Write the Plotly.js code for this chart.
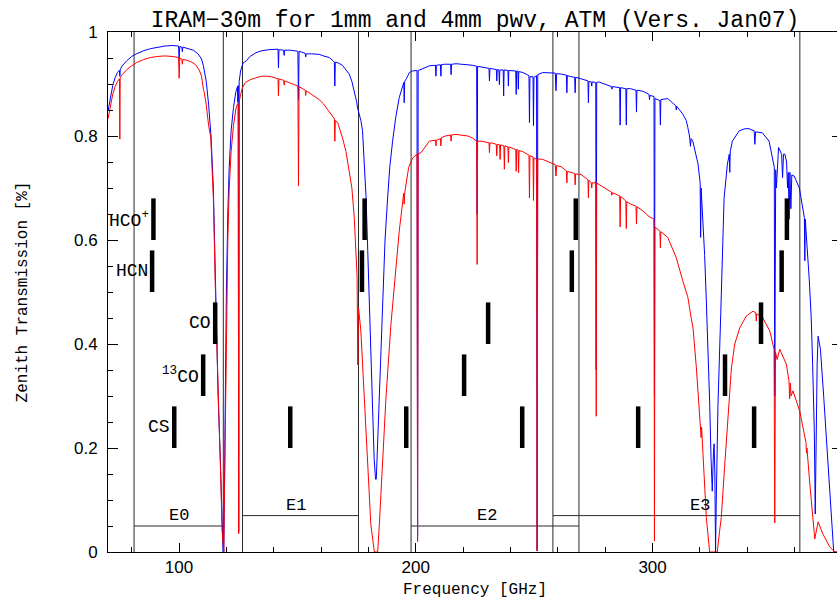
<!DOCTYPE html>
<html>
<head>
<meta charset="utf-8">
<script src="https://cdn.plot.ly/plotly-3.0.1.min.js"></script>
<style>
html,body{margin:0;padding:0;overflow:hidden;background:#fff;}
#chart{width:860px;height:599px;}
</style>
</head>
<body>
<div id="chart"></div>
<script>
// ---- Data ----
// Zenith transmission, 1 mm pwv (blue)
const freqBlue = [70.0,71.0,72.0,73.0,74.0,74.8,75.0,75.2,76.0,78.0,80.0,82.0,85.0,88.0,91.0,94.0,97.0,99.8,100.05,100.3,101.2,101.4,101.6,102.5,104.0,106.0,108.0,109.5,110.3,110.6,111.5,112.5,113.5,114.5,115.5,116.5,117.5,118.2,118.6,118.9,119.3,120.0,120.6,121.2,122.0,123.0,124.0,124.7,124.85,125.0,125.2,125.4,126.0,127.0,128.5,130.0,132.4,135.0,138.0,141.8,142.0,142.2,144.2,144.4,144.6,147.0,150.2,150.45,150.7,153.3,153.5,153.7,156.0,159.2,161.0,163.4,165.0,165.6,165.8,166.0,167.0,168.0,169.0,170.0,171.0,171.9,173.0,174.0,175.0,175.4,176.0,176.8,177.5,178.2,179.0,179.7,180.3,181.0,181.7,182.4,183.0,183.3,183.8,184.6,185.3,186.0,187.0,188.1,189.0,190.2,191.5,193.0,194.3,194.95,195.1,195.3,196.0,197.3,198.5,200.5,200.75,201.0,202.2,204.0,205.7,208.3,208.5,208.7,210.4,210.6,210.8,212.0,214.7,214.9,215.1,217.0,219.8,222.0,224.0,225.7,225.9,226.1,227.6,229.0,230.9,231.1,231.3,232.5,234.0,234.2,234.4,235.1,235.3,235.5,236.9,237.1,237.3,238.9,239.1,239.3,240.5,242.2,242.4,242.6,243.1,243.3,243.5,245.2,247.0,247.8,248.0,248.2,249.5,249.7,249.9,251.0,251.25,251.5,253.6,256.4,258.9,259.2,259.5,261.4,263.6,263.8,264.0,265.6,267.1,267.3,267.5,269.8,272.7,272.9,273.1,274.1,274.3,274.5,276.0,276.2,276.4,277.3,279.4,282.6,282.8,283.0,286.1,286.3,286.5,288.7,288.9,289.1,290.7,293.0,293.2,293.4,295.9,298.5,298.7,298.9,300.6,300.8,301.0,302.2,303.1,303.3,303.5,306.4,309.8,310.0,310.2,312.8,314.2,314.9,315.6,316.0,316.3,317.0,318.0,319.2,320.1,320.3,320.5,321.0,322.0,322.7,323.4,324.1,324.7,325.2,325.7,326.0,326.3,326.6,326.9,327.3,327.6,328.8,330.2,331.6,332.4,332.6,332.8,333.7,336.6,339.0,340.8,342.9,343.2,343.5,346.4,349.2,350.6,351.4,351.6,351.8,352.0,352.3,352.6,353.2,354.5,354.9,355.3,355.9,356.6,357.0,357.3,357.7,358.0,358.4,358.8,359.8,362.0,363.6,364.1,364.3,364.5,366.2,367.0,367.6,368.3,368.7,369.1,369.5,369.9,370.5,370.9,372.3,374.4,376.5,380.0];
const transBlue = [0.848,0.875,0.897,0.912,0.922,0.926,0.915,0.928,0.935,0.945,0.953,0.958,0.964,0.968,0.971,0.973,0.974,0.973,0.947,0.972,0.971,0.962,0.971,0.970,0.968,0.965,0.958,0.948,0.935,0.928,0.905,0.86,0.80,0.70,0.49,0.30,0.17,0.05,0.0,0.0,0.20,0.50,0.65,0.74,0.81,0.855,0.885,0.895,0.865,0.897,0.04,0.905,0.925,0.94,0.945,0.953,0.960,0.964,0.966,0.967,0.931,0.966,0.965,0.955,0.965,0.965,0.963,0.87,0.963,0.959,0.952,0.958,0.958,0.957,0.954,0.951,0.945,0.942,0.896,0.942,0.941,0.939,0.936,0.93,0.925,0.919,0.905,0.887,0.866,0.854,0.843,0.83,0.81,0.75,0.681,0.58,0.489,0.37,0.265,0.18,0.14,0.14,0.2,0.297,0.40,0.489,0.6,0.681,0.74,0.79,0.835,0.874,0.895,0.903,0.864,0.905,0.91,0.922,0.925,0.926,0.03,0.926,0.928,0.932,0.935,0.936,0.915,0.936,0.937,0.915,0.937,0.938,0.938,0.918,0.938,0.939,0.938,0.938,0.936,0.934,0.65,0.934,0.933,0.932,0.930,0.906,0.930,0.929,0.928,0.906,0.928,0.927,0.899,0.927,0.927,0.877,0.927,0.926,0.896,0.926,0.926,0.925,0.88,0.925,0.925,0.89,0.924,0.922,0.918,0.916,0.826,0.914,0.914,0.82,0.913,0.916,0.002,0.918,0.922,0.922,0.921,0.887,0.92,0.919,0.917,0.883,0.916,0.914,0.913,0.883,0.913,0.91,0.906,0.864,0.905,0.904,0.896,0.904,0.903,0.35,0.903,0.904,0.90,0.895,0.89,0.895,0.893,0.821,0.893,0.891,0.821,0.891,0.891,0.888,0.846,0.888,0.886,0.88,0.87,0.878,0.876,0.30,0.872,0.870,0.868,0.821,0.87,0.872,0.858,0.85,0.857,0.842,0.83,0.816,0.80,0.78,0.795,0.79,0.77,0.746,0.71,0.605,0.70,0.66,0.57,0.483,0.40,0.29,0.18,0.117,0.19,0.208,0.15,0.0,0.1,0.226,0.28,0.46,0.68,0.746,0.765,0.73,0.77,0.79,0.81,0.814,0.814,0.81,0.784,0.808,0.806,0.79,0.758,0.74,0.30,0.72,0.735,0.70,0.727,0.778,0.765,0.72,0.765,0.765,0.75,0.70,0.73,0.64,0.73,0.66,0.725,0.723,0.70,0.66,0.643,0.56,0.64,0.521,0.45,0.361,0.233,0.073,0.233,0.36,0.415,0.40,0.39,0.297,0.137,0.0,0.0];

// Zenith transmission, 4 mm pwv (red)
const freqRed = [70.0,71.0,72.0,73.0,74.0,74.85,75.0,75.15,76.0,78.0,80.0,82.0,85.0,88.0,91.0,94.0,97.0,99.8,100.05,100.3,101.2,101.4,101.6,103.0,105.0,107.0,108.5,109.5,110.3,110.6,111.5,112.5,113.4,114.5,115.5,116.5,117.5,118.2,118.6,118.9,119.3,120.0,120.6,121.2,122.0,123.0,124.0,124.7,125.0,125.2,125.4,126.0,126.8,128.0,130.0,132.4,135.0,137.0,139.0,141.8,142.0,142.2,144.2,144.4,144.6,147.9,150.2,150.45,150.7,153.3,153.5,153.7,156.0,159.2,161.0,163.4,165.0,165.6,165.8,166.0,167.0,169.0,170.5,171.9,173.0,174.0,175.0,175.2,175.5,175.8,176.8,178.2,179.6,181.0,182.5,183.9,184.6,186.0,187.4,189.5,191.6,193.0,194.9,195.1,195.3,197.0,198.7,200.5,200.75,201.0,202.2,204.0,205.7,208.3,208.5,208.7,210.4,210.6,210.8,212.5,214.7,214.9,215.1,217.0,219.8,222.0,224.0,225.7,225.9,226.1,227.6,229.0,230.9,231.1,231.3,232.5,234.0,234.2,234.4,235.4,235.6,235.8,237.2,237.4,237.6,238.9,239.1,239.3,240.5,242.2,242.4,242.6,243.2,243.4,243.6,245.2,247.0,247.8,248.0,248.2,249.5,249.7,249.9,251.0,251.25,251.5,253.6,256.4,258.9,259.2,259.5,261.4,263.6,263.8,264.0,265.6,267.1,267.3,267.5,269.8,272.7,272.9,273.1,274.1,274.3,274.5,276.0,276.2,276.4,277.3,279.4,282.6,282.8,283.0,286.1,286.3,286.5,288.7,288.9,289.1,290.7,293.0,293.2,293.4,295.9,298.5,300.6,300.8,301.0,302.2,303.1,303.3,303.5,306.4,310.0,312.8,314.9,316.3,317.1,318.5,319.9,320.3,320.5,320.7,321.3,322.7,324.1,327.3,328.3,329.0,330.4,331.8,332.6,333.3,334.7,336.8,339.6,342.4,343.6,343.8,344.0,346.6,349.5,351.3,351.6,351.9,352.6,353.7,356.5,357.6,357.9,358.2,358.5,359.3,362.2,364.8,365.0,365.2,366.3,367.1,368.5,369.9,372.0,374.8,376.9,380.0];
const transRed = [0.833,0.86,0.88,0.895,0.905,0.91,0.794,0.912,0.918,0.928,0.935,0.941,0.947,0.951,0.953,0.954,0.953,0.951,0.911,0.950,0.948,0.938,0.947,0.946,0.943,0.937,0.927,0.915,0.89,0.885,0.86,0.82,0.797,0.68,0.475,0.29,0.16,0.04,0.0,0.0,0.15,0.45,0.60,0.70,0.77,0.82,0.852,0.862,0.86,0.035,0.865,0.88,0.893,0.903,0.908,0.912,0.915,0.915,0.914,0.91,0.877,0.91,0.907,0.898,0.906,0.90,0.896,0.704,0.895,0.888,0.878,0.887,0.88,0.870,0.862,0.848,0.838,0.833,0.79,0.83,0.826,0.797,0.77,0.733,0.70,0.643,0.56,0.53,0.36,0.47,0.425,0.297,0.169,0.053,0.0,0.0,0.053,0.169,0.297,0.438,0.553,0.617,0.69,0.669,0.69,0.74,0.758,0.765,0.02,0.766,0.768,0.78,0.79,0.792,0.781,0.792,0.795,0.781,0.797,0.80,0.802,0.79,0.802,0.803,0.802,0.80,0.796,0.79,0.553,0.79,0.79,0.789,0.787,0.768,0.787,0.786,0.784,0.762,0.784,0.783,0.755,0.783,0.781,0.736,0.781,0.779,0.749,0.779,0.777,0.774,0.732,0.774,0.773,0.729,0.772,0.770,0.765,0.763,0.681,0.762,0.76,0.676,0.758,0.755,0.002,0.756,0.755,0.749,0.745,0.723,0.743,0.741,0.733,0.71,0.732,0.73,0.728,0.706,0.727,0.726,0.716,0.681,0.715,0.71,0.70,0.71,0.71,0.261,0.71,0.707,0.701,0.692,0.686,0.691,0.685,0.625,0.684,0.675,0.622,0.674,0.669,0.665,0.631,0.664,0.656,0.645,0.64,0.021,0.625,0.62,0.617,0.585,0.616,0.605,0.566,0.521,0.49,0.45,0.43,0.354,0.271,0.25,0.22,0.24,0.18,0.066,0.0,0.0,0.04,0.066,0.162,0.258,0.316,0.354,0.40,0.431,0.454,0.463,0.46,0.444,0.458,0.45,0.425,0.39,0.056,0.385,0.37,0.39,0.361,0.33,0.295,0.325,0.30,0.31,0.27,0.21,0.19,0.2,0.137,0.10,0.025,0.058,0.034,0.01,0.0,0.0];

// Receiver bands
const bandNames = ['E0','E1','E2','E3'];
const bandStart = [81.0,126.8,198.0,257.9];
const bandEnd   = [118.7,175.8,268.9,362.2];
const bandLevel = [0.05,0.07,0.05,0.07];
const bandLabelFreq = [100.0,149.5,230.0,320.0];

// Molecular line markers
const molNames  = ['HCO<sup>+</sup>','HCN','CO','<sup>13</sup>CO','CS'];
const molFreqs  = [
  [89.19,178.38,267.56,356.73],
  [88.63,177.26,265.89,354.51],
  [115.27,230.54,345.80],
  [110.20,220.40,330.59],
  [97.98,146.97,195.95,244.94,293.91,342.88]
];
const molLow  = [0.60,0.50,0.40,0.30,0.20];
const molHigh = [0.68,0.58,0.48,0.38,0.28];

// Axes
const xRange = [70,380];
const xTickVals = [100,200,300];
const xTickText = ['100','200','300'];
const yTickVals = [0,0.2,0.4,0.6,0.8,1];
const yTickText = ['0','0.2','0.4','0.6','0.8','1'];

const titleText = 'IRAM\u221230m for 1mm and 4mm pwv, ATM (Vers. Jan07)';
const xTitle = 'Frequency [GHz]';
const yTitle = 'Zenith Transmission [%]';

// ---- Build traces ----
const traces = [];

// band frame lines
const bx = [], by = [];
for (let i = 0; i < bandNames.length; i++) {
  bx.push(bandStart[i], bandStart[i], null, bandEnd[i], bandEnd[i], null, bandStart[i], bandEnd[i], null);
  by.push(0, 1, null, 0, 1, null, bandLevel[i], bandLevel[i], null);
}
traces.push({x: bx, y: by, mode: 'lines', line: {color: '#2a2a2a', width: 1}, hoverinfo: 'skip'});

traces.push({x: freqBlue, y: transBlue, mode: 'lines', line: {color: '#0000ff', width: 1}, name: '1mm pwv'});
traces.push({x: freqRed, y: transRed, mode: 'lines', line: {color: '#ff0000', width: 1}, name: '4mm pwv'});

// molecular markers
const mx = [], my = [];
for (let i = 0; i < molNames.length; i++) {
  molFreqs[i].forEach(f => { mx.push(f, f, null); my.push(molLow[i], molHigh[i], null); });
}
traces.push({x: mx, y: my, mode: 'lines', line: {color: '#000', width: 4.5}, hoverinfo: 'skip'});

const mono = 'Liberation Mono, Courier New, monospace';
const annotations = [];
for (let i = 0; i < molNames.length; i++) {
  annotations.push({x: molFreqs[i][0], y: (molLow[i] + molHigh[i]) / 2, xref: 'x', yref: 'y',
    text: molNames[i], showarrow: false, xanchor: 'right', yanchor: 'middle', xshift: -2,
    font: {family: mono, size: 18, color: '#000'}});
}
for (let i = 0; i < bandNames.length; i++) {
  annotations.push({x: bandLabelFreq[i], y: bandLevel[i], xref: 'x', yref: 'y',
    text: bandNames[i], showarrow: false, xanchor: 'center', yanchor: 'bottom', yshift: -1,
    font: {family: mono, size: 17, color: '#000'}});
}

const axisCommon = {
  showline: true, linecolor: '#000', linewidth: 1, mirror: 'allticks',
  showgrid: false, zeroline: false, ticks: 'inside', tickcolor: '#000', tickwidth: 1,
  tickfont: {family: 'Liberation Sans, Arial, sans-serif', size: 17, color: '#000'}
};

const layout = {
  width: 860, height: 599,
  margin: {l: 108, r: 18, t: 32, b: 47},
  paper_bgcolor: '#fff', plot_bgcolor: '#fff',
  showlegend: false,
  title: {text: titleText, font: {family: mono, size: 23, color: '#000'},
    x: 0.5, xref: 'paper', xanchor: 'center', y: 1 - 19/599, yref: 'container', yanchor: 'middle'},
  xaxis: Object.assign({}, axisCommon, {
    range: xRange, tickmode: 'array', tickvals: xTickVals, ticktext: xTickText, ticklen: 9,
    minor: {dtick: 20, tick0: 0, ticks: 'inside', ticklen: 5, tickcolor: '#000', tickwidth: 1},
    ticklabelstandoff: 0,
    title: {text: xTitle, font: {family: mono, size: 16, color: '#000'}, standoff: 12}
  }),
  yaxis: Object.assign({}, axisCommon, {
    range: [0, 1], tickmode: 'array', tickvals: yTickVals, ticktext: yTickText, ticklen: 10,
    minor: {dtick: 0.05, tick0: 0, ticks: 'inside', ticklen: 5, tickcolor: '#000', tickwidth: 1},
    ticklabelstandoff: 6,
    title: {text: yTitle, font: {family: mono, size: 16, color: '#000'}, standoff: 42}
  }),
  annotations: annotations
};

Plotly.newPlot('chart', traces, layout, {staticPlot: true, displayModeBar: false});
</script>
</body>
</html>
